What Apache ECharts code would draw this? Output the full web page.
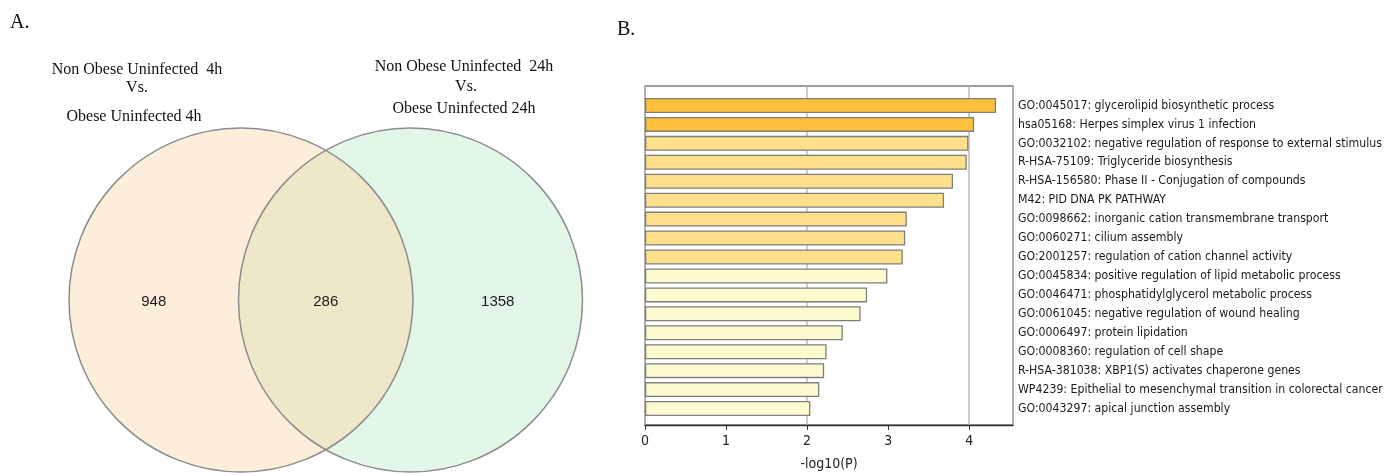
<!DOCTYPE html>
<html><head><meta charset="utf-8">
<script src="https://cdn.jsdelivr.net/npm/echarts@6/dist/echarts.min.js"></script>
<style>html,body{margin:0;padding:0;background:#fff}#c{width:1386px;height:476px}</style>
</head><body><div id="c"></div>
<script>
// ---- Data ----
const vennRegions = ['Non Obese vs Obese 4h only', 'Shared', 'Non Obese vs Obese 24h only'];
const vennCounts = [948, 286, 1358];
const terms = [
  'GO:0045017: glycerolipid biosynthetic process',
  'hsa05168: Herpes simplex virus 1 infection',
  'GO:0032102: negative regulation of response to external stimulus',
  'R-HSA-75109: Triglyceride biosynthesis',
  'R-HSA-156580: Phase II - Conjugation of compounds',
  'M42: PID DNA PK PATHWAY',
  'GO:0098662: inorganic cation transmembrane transport',
  'GO:0060271: cilium assembly',
  'GO:2001257: regulation of cation channel activity',
  'GO:0045834: positive regulation of lipid metabolic process',
  'GO:0046471: phosphatidylglycerol metabolic process',
  'GO:0061045: negative regulation of wound healing',
  'GO:0006497: protein lipidation',
  'GO:0008360: regulation of cell shape',
  'R-HSA-381038: XBP1(S) activates chaperone genes',
  'WP4239: Epithelial to mesenchymal transition in colorectal cancer',
  'GO:0043297: apical junction assembly'
];
const logP = [4.33, 4.06, 3.99, 3.97, 3.80, 3.69, 3.23, 3.21, 3.18, 2.99, 2.74, 2.66, 2.44, 2.24, 2.21, 2.15, 2.04];
const xTicks = [0, 1, 2, 3, 4];
const gridTicks = [2, 4];

// ---- Layout ----
const VENN = { c1: [241, 300], c2: [410.5, 300], r: 172 };
const X_MAX = 4.54;
const condensed = "'DejaVu Sans Condensed', 'Liberation Sans Narrow', 'DejaVu Sans', sans-serif";
const serif = "'Liberation Serif', 'DejaVu Serif', serif";

function barColor(v) {
  if (v >= 4) return '#FFC13B';
  if (v >= 3) return '#FFE08A';
  return '#FCFBCF';
}

function renderVenn(params, api) {
  const i = params.dataIndex;
  const count = api.value(1);
  const p1 = api.coord(VENN.c1), p2 = api.coord(VENN.c2);
  const r = api.size([VENN.r, 0])[0];
  const stroke = '#8C8C8C';
  const els = [];
  let lx;
  if (i === 0) {
    els.push({ type: 'circle', z2: 0, shape: { cx: p1[0], cy: p1[1], r: r }, style: { fill: '#FDEEDB', stroke: null } });
    els.push({ type: 'circle', z2: 5, shape: { cx: p1[0], cy: p1[1], r: r }, style: { fill: null, stroke: stroke, lineWidth: 1.5 } });
    lx = ((p1[0] - r) + (p2[0] - r)) / 2;
  } else if (i === 2) {
    els.push({ type: 'circle', z2: 0, shape: { cx: p2[0], cy: p2[1], r: r }, style: { fill: '#E3F7E9', stroke: null } });
    els.push({ type: 'circle', z2: 5, shape: { cx: p2[0], cy: p2[1], r: r }, style: { fill: null, stroke: stroke, lineWidth: 1.5 } });
    lx = ((p1[0] + r) + (p2[0] + r)) / 2;
  } else {
    const d = p2[0] - p1[0];
    const mx = (p1[0] + p2[0]) / 2;
    const h = Math.sqrt(r * r - (d / 2) * (d / 2));
    const ty = p1[1] - h, by = p1[1] + h;
    const path = 'M' + mx + ' ' + ty + ' A' + r + ' ' + r + ' 0 0 1 ' + mx + ' ' + by +
                 ' A' + r + ' ' + r + ' 0 0 1 ' + mx + ' ' + ty + ' Z';
    els.push({ type: 'path', z2: 2, shape: { pathData: path }, style: { fill: '#EEE8C8', stroke: null } });
    lx = mx;
  }
  els.push({ type: 'text', z2: 10, x: lx, y: p1[1] + 2,
    style: { text: String(count), fill: '#1a1a1a', font: "15px 'Liberation Sans', Arial, sans-serif", align: 'center', verticalAlign: 'middle' } });
  return { type: 'group', children: els };
}

const chart = echarts.init(document.getElementById('c'), null, { renderer: 'canvas' });
chart.setOption({
  backgroundColor: '#ffffff',
  animation: false,
  graphic: [
    { type: 'text', x: 10, y: 23, style: { text: 'A.', font: '20px ' + serif, fill: '#111', verticalAlign: 'middle' } },
    { type: 'text', x: 617, y: 30, style: { text: 'B.', font: '20px ' + serif, fill: '#111', verticalAlign: 'middle' } },
    { type: 'text', x: 137, y: 70, style: { text: 'Non Obese Uninfected  4h', font: '16px ' + serif, fill: '#111', align: 'center', verticalAlign: 'middle' } },
    { type: 'text', x: 137, y: 88, style: { text: 'Vs.', font: '16px ' + serif, fill: '#111', align: 'center', verticalAlign: 'middle' } },
    { type: 'text', x: 134, y: 117, style: { text: 'Obese Uninfected 4h', font: '16px ' + serif, fill: '#111', align: 'center', verticalAlign: 'middle' } },
    { type: 'text', x: 464, y: 67, style: { text: 'Non Obese Uninfected  24h', font: '16px ' + serif, fill: '#111', align: 'center', verticalAlign: 'middle' } },
    { type: 'text', x: 466, y: 87, style: { text: 'Vs.', font: '16px ' + serif, fill: '#111', align: 'center', verticalAlign: 'middle' } },
    { type: 'text', x: 464, y: 109, style: { text: 'Obese Uninfected 24h', font: '16px ' + serif, fill: '#111', align: 'center', verticalAlign: 'middle' } }
  ],
  grid: [
    { left: 645, top: 86, width: 368, height: 341, show: true, borderColor: '#3a3a3a', borderWidth: 1.2, backgroundColor: 'transparent' },
    { left: 645, top: 96, width: 368, height: 322 },
    { left: 0, top: 0, width: 640, height: 476 }
  ],
  xAxis: [
    { gridIndex: 0, type: 'value', min: 0, max: X_MAX,
      axisLine: { show: true, lineStyle: { color: '#333', width: 1.4 } },
      axisTick: { show: true, length: 5, customValues: xTicks, lineStyle: { color: '#333' } },
      axisLabel: { customValues: xTicks, margin: 9, color: '#222', fontSize: 14, fontFamily: condensed },
      splitLine: { show: false },
      name: '-log10(P)', nameLocation: 'middle', nameGap: 32,
      nameTextStyle: { color: '#222', fontSize: 14, fontFamily: condensed } },
    { gridIndex: 0, type: 'value', min: 0, max: X_MAX, position: 'bottom',
      axisLine: { show: false }, axisTick: { show: false }, axisLabel: { show: false },
      splitLine: { show: true, lineStyle: { color: '#BDBDBD', width: 1.5 } },
      interval: 2 },
    { gridIndex: 1, type: 'value', min: 0, max: X_MAX, show: false },
    { gridIndex: 2, type: 'value', min: 0, max: 640, show: false }
  ],
  yAxis: [
    { gridIndex: 0, type: 'value', min: 0, max: 1, show: false },
    { gridIndex: 1, type: 'category', data: terms, inverse: true, position: 'right',
      axisLine: { show: false }, axisTick: { show: false },
      axisLabel: { align: 'left', margin: 5, color: '#1a1a1a', fontSize: 12.2, fontFamily: condensed } },
    { gridIndex: 2, type: 'value', min: 0, max: 476, inverse: true, show: false }
  ],
  series: [
    { type: 'bar', xAxisIndex: 2, yAxisIndex: 1, data: logP, barWidth: 15,
      itemStyle: { color: p => barColor(p.value), borderColor: '#7E7E7E', borderWidth: 1.3 },
      z: 3 },
    { type: 'custom', xAxisIndex: 3, yAxisIndex: 2, coordinateSystem: 'cartesian2d',
      data: vennCounts.map((v, i) => [i, v]),
      encode: { x: 0, y: 1 },
      renderItem: renderVenn, z: 2 }
  ]
});
</script>
</body></html>
